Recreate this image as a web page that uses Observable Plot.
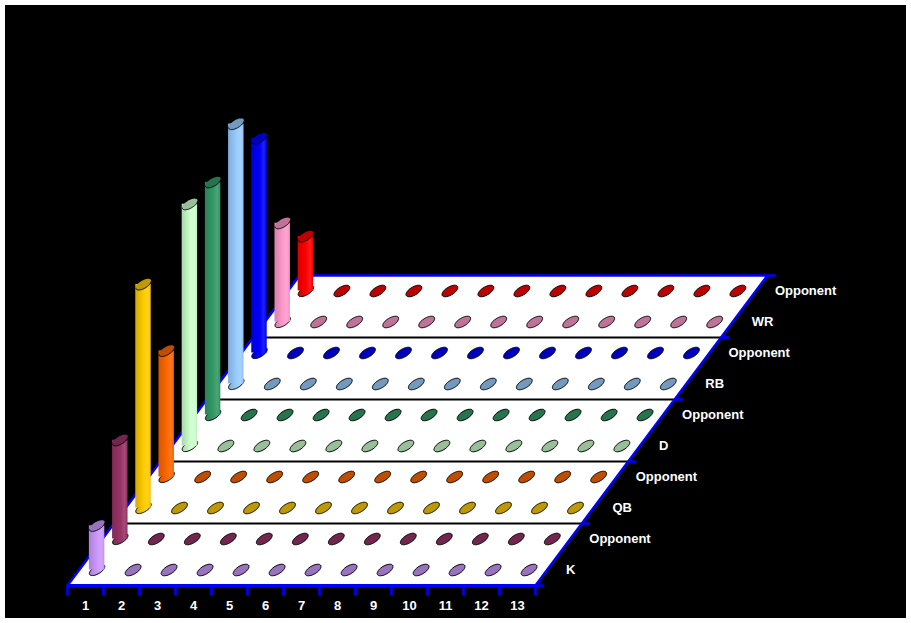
<!DOCTYPE html>
<html><head><meta charset="utf-8">
<script src="https://cdn.jsdelivr.net/npm/d3@7"></script>
<script src="https://cdn.jsdelivr.net/npm/@observablehq/plot@0.6"></script>
<style>html,body{margin:0;padding:0;background:#fff;} #chart{width:911px;height:623px;}</style>
</head><body><div id="chart"></div>
<script>
// ---- data ----
const categories = ["1","2","3","4","5","6","7","8","9","10","11","12","13"];
const seriesNames = ["K","Opponent","QB","Opponent","D","Opponent","RB","Opponent","WR","Opponent"];
const seriesColors = ["#cc99ff","#993366","#ffcc00","#ff6600","#ccffcc","#339966","#99ccff","#0000ff","#ff99cc","#ff0000"];
const kValues    = [17,   0,0,0,0,0,0,0,0,0,0,0,0];
const kOpponent  = [38,   0,0,0,0,0,0,0,0,0,0,0,0];
const qbValues   = [86,   0,0,0,0,0,0,0,0,0,0,0,0];
const qbOpponent = [48.5, 0,0,0,0,0,0,0,0,0,0,0,0];
const dValues    = [93,   0,0,0,0,0,0,0,0,0,0,0,0];
const dOpponent  = [89.5, 0,0,0,0,0,0,0,0,0,0,0,0];
const rbValues   = [100,  0,0,0,0,0,0,0,0,0,0,0,0];
const rbOpponent = [82.5, 0,0,0,0,0,0,0,0,0,0,0,0];
const wrValues   = [38,   0,0,0,0,0,0,0,0,0,0,0,0];
const wrOpponent = [21,   0,0,0,0,0,0,0,0,0,0,0,0];
const seriesValues = [kValues,kOpponent,qbValues,qbOpponent,dValues,dOpponent,rbValues,rbOpponent,wrValues,wrOpponent];

// ---- oblique projection (data space) ----
const nC = categories.length, nR = seriesNames.length;
const catPx = 36, unitPx = 2.6, rowDx = 23.2, rowDy = 31;
const kx = rowDx / catPx, ky = rowDy / unitPx;
const U = (c, d) => c + d * kx;       // x-scale units
const V = (v, d) => v + d * ky;       // y-scale units

function shade(hex, k) {
  const c = d3.rgb(hex);
  return d3.rgb(c.r * k, c.g * k, c.b * k).formatHex();
}
function mixWhite(hex, t) {
  const c = d3.rgb(hex);
  return d3.rgb(c.r + (255 - c.r) * t, c.g + (255 - c.g) * t, c.b + (255 - c.b) * t).formatHex();
}
const TH = -31 * Math.PI / 180;
function ellipseSym(a, b, t0, t1, close) {
  return {draw(ctx) {
    const n = 48, ct = Math.cos(TH), st = Math.sin(TH);
    for (let i = 0; i <= n; i++) {
      const t = t0 + (t1 - t0) * i / n;
      const x = a * Math.cos(t) * ct - b * Math.sin(t) * st;
      const y = a * Math.cos(t) * st + b * Math.sin(t) * ct;
      i ? ctx.lineTo(x, y) : ctx.moveTo(x, y);
    }
    if (close) ctx.closePath();
  }};
}
const cA = 8.7, cB = 3.9, fA = 8.9, fB = 4.1;
const tR = Math.atan2(-cB * Math.sin(TH), cA * Math.cos(TH));
const halfW = Math.sqrt(cA*cA*Math.cos(TH)**2 + cB*cB*Math.sin(TH)**2) / catPx;
const cylFull = ellipseSym(cA, cB, 0, 2 * Math.PI, true);
const cylLowerArc = ellipseSym(cA, cB, tR, tR + Math.PI, false);
const flatFull = ellipseSym(fA, fB, 0, 2 * Math.PI, true);

const cells = [];
seriesValues.forEach((vals, r) => vals.forEach((v, c) => cells.push({r, c, v, color: seriesColors[r]})));
const bars = cells.filter(d => d.v > 0);
const flats = cells.filter(d => d.v === 0);

const floor = [{c:0,d:0},{c:nC,d:0},{c:nC,d:nR},{c:0,d:nR}];
const groupLines = d3.range(2, nR, 2);
const depthTicks = d3.range(0, nR + 1, 2);
const catTicks = d3.range(0, nC + 1);
const font = "Liberation Sans, Arial, sans-serif";

const svg = Plot.plot({
  width: 911, height: 623,
  x: {domain: [0, nC], range: [67, 535], axis: null},
  y: {domain: [0, 100], range: [585, 325], axis: null},
  color: {type: "identity"},
  marks: [
    Plot.line(floor, {x: d => U(d.c, d.d), y: d => V(0, d.d), fill: "#fff", stroke: "none", curve: "linear-closed"}),
    Plot.link(groupLines, {x1: d => U(0, d), x2: d => U(nC, d), y1: d => V(0, d), y2: d => V(0, d), stroke: "#000", strokeWidth: 2.2}),
    Plot.line(floor, {x: d => U(d.c, d.d), y: d => V(0, d.d), fill: "none", stroke: "#0000ff", strokeWidth: 2.6, curve: "linear-closed"}),
    Plot.link([0], {x1: () => U(0, 0), x2: () => U(nC, 0), y1: () => 0, y2: () => 0, stroke: "#0000ff", strokeWidth: 3.2}),
    Plot.link(catTicks, {x1: c => c, x2: c => c, y1: () => 0, y2: () => -10 / unitPx, stroke: "#0000ff", strokeWidth: 2.6}),
    Plot.link(depthTicks, {x1: d => U(nC, d), x2: d => U(nC, d) + 8 / catPx, y1: d => V(0, d), y2: d => V(0, d), stroke: "#0000ff", strokeWidth: 2.6}),
    Plot.dot(flats, {x: d => U(d.c + 0.5, d.r + 0.5), y: d => V(0, d.r + 0.5), symbol: flatFull, fill: d => shade(d.color, 0.75), stroke: "#000", strokeWidth: 1}),
    Plot.dot(bars, {x: d => U(d.c + 0.5, d.r + 0.5), y: d => V(0, d.r + 0.5), symbol: cylFull, fill: d => `url(#cyl${d.r})`, stroke: "#000", strokeWidth: 1}),
    Plot.rect(bars, {x1: d => U(d.c + 0.5, d.r + 0.5) - halfW, x2: d => U(d.c + 0.5, d.r + 0.5) + halfW, y1: d => V(0, d.r + 0.5), y2: d => V(d.v, d.r + 0.5), fill: d => `url(#cyl${d.r})`}),
    Plot.dot(bars, {x: d => U(d.c + 0.5, d.r + 0.5), y: d => V(d.v, d.r + 0.5), symbol: cylFull, fill: d => shade(d.color, 0.75), stroke: "none"}),
    Plot.dot(bars, {x: d => U(d.c + 0.5, d.r + 0.5), y: d => V(d.v, d.r + 0.5), symbol: cylLowerArc, fill: "none", stroke: "#000", strokeWidth: 1}),
    Plot.text(seriesNames.map((n, r) => ({n, r})), {x: d => U(nC, d.r + 0.5), y: d => V(0, d.r + 0.5), text: d => d.n, dx: 19, textAnchor: "start", fill: "#fff", fontWeight: "bold", fontSize: 13, fontFamily: font}),
    Plot.text(categories.map((t, c) => ({t, c})), {x: d => d.c + 0.5, y: () => 0, text: d => d.t, dy: 20, fill: "#fff", fontWeight: "bold", fontSize: 13, fontFamily: font})
  ]
});

svg.style.background = "#000";
svg.style.boxShadow = "inset 0 0 0 5px #fff";
svg.style.overflow = "visible";
const NS = "http://www.w3.org/2000/svg";
const defs = document.createElementNS(NS, "defs");
seriesColors.forEach((col, r) => {
  const g = document.createElementNS(NS, "linearGradient");
  g.setAttribute("id", `cyl${r}`);
  g.setAttribute("x1", "0"); g.setAttribute("x2", "1"); g.setAttribute("y1", "0"); g.setAttribute("y2", "0");
  [[0, shade(col, 0.84)], [0.55, col], [0.8, mixWhite(col, 0.12)], [1, shade(col, 0.95)]].forEach(([o, c]) => {
    const s = document.createElementNS(NS, "stop");
    s.setAttribute("offset", o); s.setAttribute("stop-color", c);
    g.appendChild(s);
  });
  defs.appendChild(g);
});
svg.insertBefore(defs, svg.firstChild);
document.getElementById("chart").appendChild(svg);
</script>
</body></html>
